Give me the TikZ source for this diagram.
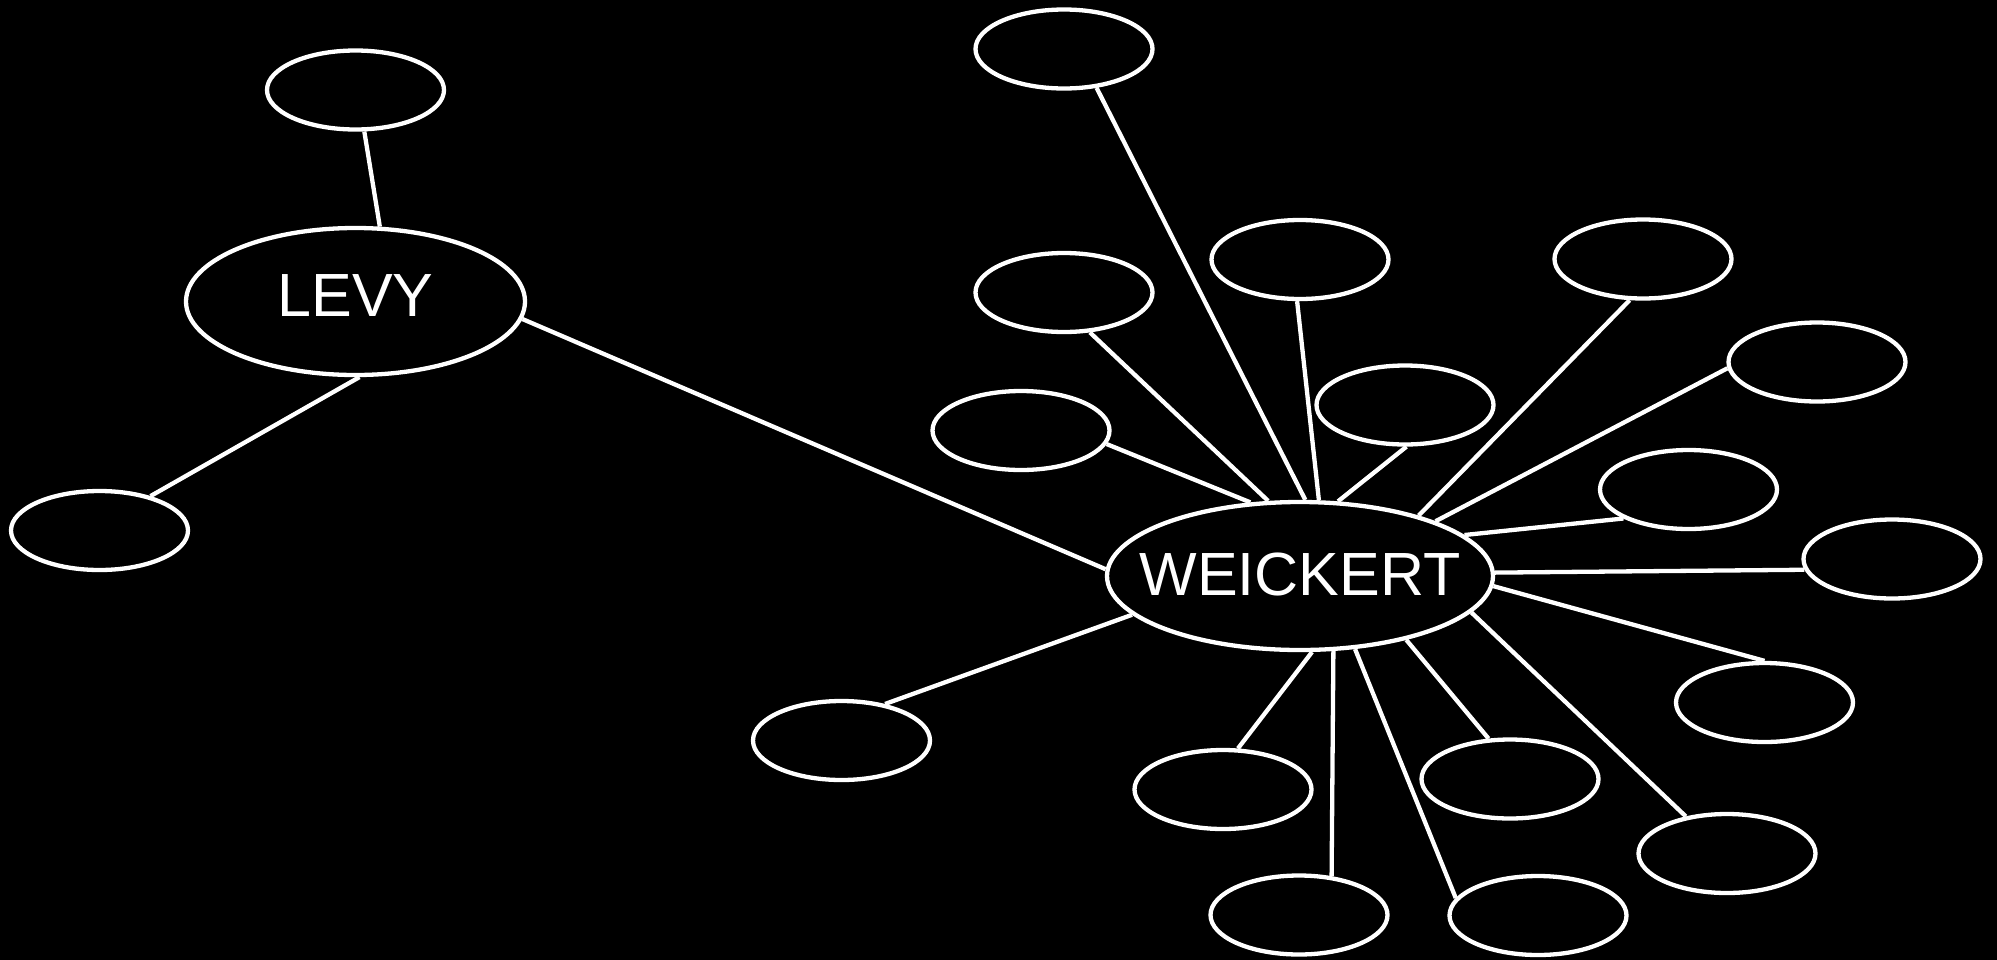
\documentclass[tikz,border=0pt]{standalone}
\usepackage{fontspec}
\setmainfont{Liberation Sans}
\usetikzlibrary{shapes.geometric}
\begin{document}
\begin{tikzpicture}[x=1pt,y=-1pt,
  oval/.style={ellipse, draw=white, line width=4.3pt, fill=black, inner sep=0pt},
  small/.style={oval, minimum width=177pt, minimum height=79pt},
  big/.style={oval, text=white, font=\fontsize{61pt}{72pt}\selectfont},
  link/.style={draw=white, line width=4.3pt}]
\useasboundingbox (0,0) rectangle (1997,959);
\fill[black] (-10,-10) rectangle (2007,969);
% main nodes
\node[big, minimum width=339pt, minimum height=147pt, text depth=12pt] (levy) at (355.5,301.5) {\makebox[0pt]{LEVY}};
\node[big, minimum width=386pt, minimum height=148pt, text depth=4pt] (weick) at (1300,576) {\makebox[0pt]{WEICKERT}};
% small nodes
\node[small] (n1) at (355.5,90) {};
\node[small] (n2) at (99.5,530.5) {};
\node[small] (n3) at (1064,49) {};
\node[small] (n4) at (1064,292.5) {};
\node[small] (n5) at (1300,259.5) {};
\node[small] (n6) at (1643,259) {};
\node[small] (n7) at (1405,405) {};
\node[small] (n8) at (1021,430.5) {};
\node[small] (n9) at (1817,362) {};
\node[small] (n10) at (1688.5,489.5) {};
\node[small] (n11) at (1892,559) {};
\node[small] (n12) at (1764.5,702.5) {};
\node[small] (n13) at (841.5,740.5) {};
\node[small] (n14) at (1223,789.5) {};
\node[small] (n15) at (1510,779) {};
\node[small] (n16) at (1727,853.5) {};
\node[small] (n17) at (1299,915) {};
\node[small] (n18) at (1538,915.5) {};
% connectors
\draw[link] (levy.72.5) -- (n1.-78.6);
\draw[link] (levy.-87) -- (n2.34);
\draw[link] (levy.-6.9) -- (weick.178.8);
\draw[link] (weick.86) -- (n3.-50);
\draw[link] (weick.113.7) -- (n4.-57);
\draw[link] (weick.76) -- (n5.-94);
\draw[link] (weick.63) -- (n7.-88);
\draw[link] (weick.124.8) -- (n8.-9.7);
\draw[link] (weick.27) -- (n6.-108);
\draw[link] (weick.22) -- (n9.-176);
\draw[link] (weick.14.4) -- (n10.-156);
\draw[link] (weick.1.8) -- (n11.-173);
\draw[link] (weick.-3) -- (n12.90);
\draw[link] (weick.-31.9) -- (n15.118);
\draw[link] (weick.-12.9) -- (n16.138);
\draw[link] (weick.-53) -- (n18.168);
\draw[link] (weick.-167) -- (n13.40.7);
\draw[link] (weick.-81) -- (n14.70);
\draw[link] (weick.-66.3) -- (n17.50.5);
\end{tikzpicture}
\end{document}
